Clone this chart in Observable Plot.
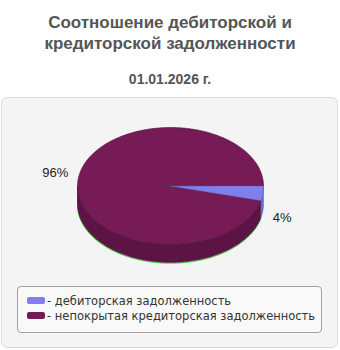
<!DOCTYPE html>
<html><head><meta charset="utf-8">
<script src="https://cdn.jsdelivr.net/npm/d3@7"></script>
<script src="https://cdn.jsdelivr.net/npm/@observablehq/plot@0.6"></script>
<style>
html,body{margin:0;padding:0;background:#fff;width:340px;height:350px;overflow:hidden;font-family:"Liberation Sans",Arial,sans-serif;}
#title{position:absolute;left:0;top:12px;width:340px;text-align:center;font-weight:bold;font-size:17px;line-height:21px;color:#555;}
#sub{position:absolute;left:0;top:71px;width:340px;text-align:center;font-weight:bold;font-size:14px;color:#555;}
#panel{position:absolute;left:1px;top:97px;width:335px;height:249px;background:#f4f4f4;border:1px solid #dcdcdc;border-radius:6px;}
#chart{position:absolute;left:0;top:98px;}
#legend{position:absolute;left:17px;top:286px;width:303px;height:45px;background:#f9f9f9;border:1px solid #a0a0a0;border-radius:4px;font-family:"DejaVu Sans",sans-serif;font-size:11.5px;color:#333;}
.row{position:absolute;left:9px;height:15px;line-height:15px;white-space:nowrap;}
.sw{display:inline-block;width:18px;height:7px;border-radius:2px;margin-right:2px;vertical-align:1px;}
</style></head>
<body>
<div id="title"></div>
<div id="sub"></div>
<div id="panel"></div>
<div id="chart"></div>
<div id="legend"></div>
<script>
const titleLines = ["Соотношение дебиторской и", "кредиторской задолженности"];
const subtitle = "01.01.2026 г.";
const categories = ["дебиторская задолженность", "непокрытая кредиторская задолженность"];
const shares = [4, 96];
const shareLabels = ["4%", "96%"];
const topColors = ["#8080ec", "#761b56"];
const sideColors = ["#6a6ad2", "#5b1443"];

document.getElementById("title").innerHTML = titleLines.join("<br>");
document.getElementById("sub").textContent = subtitle;

// geometry (page coordinates)
const CX = 170, CY = 185.5, RX = 93, RY = 58.5, DEPTH = 18;
const total = d3.sum(shares);
const pt = (a, dy = 0) => ({x: CX + RX * Math.cos(a), y: CY + RY * Math.sin(a) + dy});
function arc(a0, a1, dy = 0) {
  const n = Math.max(2, Math.ceil(Math.abs(a1 - a0) / (Math.PI / 180)));
  return d3.range(n + 1).map(i => pt(a0 + (a1 - a0) * i / n, dy));
}
let start = 0;
const slices = shares.map((v, i) => {
  const a0 = start, a1 = start + v / total * 2 * Math.PI;
  start = a1;
  return {i, a0, a1, mid: (a0 + a1) / 2};
});

const marks = [];
// green artifact line along bottom edge
marks.push(Plot.line(arc(slices[1].a0, Math.PI, DEPTH + 0.8), {x: "x", y: "y", stroke: "#33ee33", strokeWidth: 1}));
// sides
for (const s of slices) {
  const lo = Math.max(s.a0, 0), hi = Math.min(s.a1, Math.PI);
  if (hi > lo) {
    const poly = [...arc(lo, hi), ...arc(hi, lo, DEPTH)];
    poly.push(poly[0]);
    marks.push(Plot.line(poly, {x: "x", y: "y", fill: sideColors[s.i], stroke: sideColors[s.i], strokeWidth: 0.6}));
  }
}
// left vertical edge line of side
marks.push(Plot.line([pt(Math.PI), pt(Math.PI, DEPTH)], {x: "x", y: "y", stroke: "#4a0f35", strokeWidth: 0.6}));
// tops
for (const s of [slices[1], slices[0]]) {
  const c = {x: CX, y: CY};
  const poly = [c, ...arc(s.a0, s.a1), c];
  marks.push(Plot.line(poly, {x: "x", y: "y", fill: topColors[s.i], stroke: s.i === 1 ? "#4a0f35" : "#5a5ac0", strokeWidth: 0.6}));
}
// labels
const labelData = slices.map(s => {
  const c = Math.cos(s.mid), sn = Math.sin(s.mid);
  return {text: shareLabels[s.i], right: c >= 0,
    x: CX + c * (RX + 10),
    y: CY + sn * (RY + 12) + (sn > 0 ? DEPTH + 5 : -4)};
});
marks.push(Plot.text(labelData.filter(d => d.right), {x: "x", y: "y", text: "text", textAnchor: "start", fill: "#222", fontSize: 13}));
marks.push(Plot.text(labelData.filter(d => !d.right), {x: "x", y: "y", text: "text", textAnchor: "end", fill: "#222", fontSize: 13}));

const W = 340, H = 185;
const svg = Plot.plot({
  width: W, height: H,
  margin: 0,
  x: {domain: [0, W], range: [0, W], axis: null},
  y: {domain: [98, 98 + H], range: [0, H], axis: null},
  style: {background: "transparent", fontFamily: "'Liberation Sans', Arial, sans-serif"},
  marks
});
document.getElementById("chart").appendChild(svg);

const legend = document.getElementById("legend");
categories.forEach((c, i) => {
  const row = document.createElement("div");
  row.className = "row";
  row.style.top = (7 + i * 15) + "px";
  row.innerHTML = `<span class="sw" style="background:${topColors[i]}"></span>- ${c}`;
  legend.appendChild(row);
});
</script>
</body></html>
